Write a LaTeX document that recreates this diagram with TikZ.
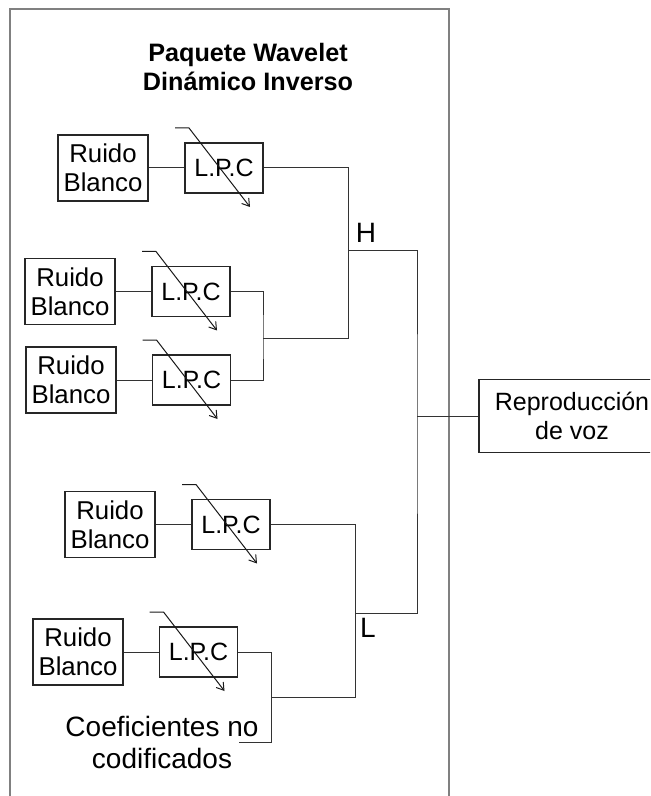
\documentclass[tikz,border=0pt]{standalone}
\usepackage{fontspec}
\setmainfont{Liberation Sans}
\usetikzlibrary{calc,arrows.meta}
\begin{document}
\begin{tikzpicture}[x=0.5pt,y=-0.5pt,
  txt/.style={font=\fontsize{12.5}{14.5}\selectfont, align=center, inner sep=0pt},
  noisebox/.style={txt, font=\fontsize{12.9}{14.5}\selectfont, draw=black!85, line width=0.6pt, minimum width=45pt, minimum height=33pt},
  lpcbox/.style={txt, draw=black!85, line width=0.6pt, minimum width=39pt, minimum height=25pt},
  wire/.style={draw=black!80, line width=0.5pt},
  tune/.style={draw=black!90, line width=0.5pt, -{Straight Barb[length=3.5pt,width=4.5pt]}},
  frame/.style={draw=black!50, line width=0.8pt}]
\useasboundingbox (0,0) rectangle (650,796);
\clip (0,0) rectangle (650,796);

% enclosing block
\draw[frame] (10,796) -- (10,9) -- (449,9) -- (449,796);
\node[txt, font=\fontsize{12.6}{14.5}\selectfont\bfseries] (title) at (248,67)
  {Paquete Wavelet\\Dinámico Inverso};

% noise sources and LPC filters
\node[noisebox] (r1) at (103,168) {Ruido\\Blanco};
\node[lpcbox]   (l1) at (224,168) {L.P.C};
\node[noisebox] (r2) at (70,291.5) {Ruido\\Blanco};
\node[lpcbox]   (l2) at (191,291.5) {L.P.C};
\node[noisebox] (r3) at (71,380) {Ruido\\Blanco};
\node[lpcbox]   (l3) at (191.5,380) {L.P.C};
\node[noisebox] (r4) at (110,524.5) {Ruido\\Blanco};
\node[lpcbox]   (l4) at (231,524.5) {L.P.C};
\node[noisebox] (r5) at (78,652) {Ruido\\Blanco};
\node[lpcbox]   (l5) at (198.5,652) {L.P.C};

\foreach \i in {1,...,5} {
  \draw[wire] (r\i.east) -- (l\i.west);
  \draw[tune] ($(l\i)+(-49,-40)$) -- ++(14,0) -- ($(l\i)+(26,39)$);
}

% output block
\node[txt, draw=black!85, line width=0.6pt, minimum width=93pt, minimum height=36.5pt]
  (rep) at (572,416) {Reproducción\\de voz};

% high band
\coordinate (m23) at (263,338);
\coordinate (hb) at (348,338);
\coordinate (hj) at (348,251);
\draw[wire] (l1.east) -| (hb) -- (m23);
\draw[wire] (l2.east) -| (m23) |- (l3.east);
\node[txt, font=\fontsize{14}{16}\selectfont] (hlab) at (366,233) {H};

% low band
\coordinate (lb) at (355,697);
\coordinate (m5) at (271,697);
\coordinate (cb) at (271,742);
\coordinate (ce) at (239,742);
\coordinate (lj) at (355,613);
\draw[wire] (l4.east) -| (lb) -- (m5);
\draw[wire] (l5.east) -| (cb) -- (ce);
\node[txt, font=\fontsize{14}{16}\selectfont] (llab) at (368,628) {L};
\node[txt, font=\fontsize{14}{16}\selectfont] (coef) at (162,742)
  {Coeficientes no\\codificados};

% recombination into the output
\coordinate (out) at (417,416);
\draw[wire] (hj) -| (out) |- (lj);
\draw[wire] (out) -- (rep.west);
\end{tikzpicture}
\end{document}
